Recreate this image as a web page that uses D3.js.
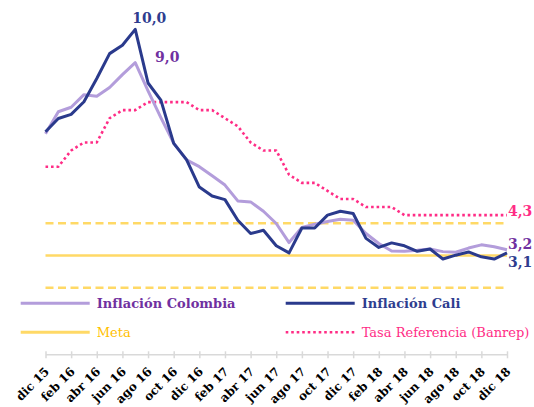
<!DOCTYPE html>
<html lang="es">
<head>
<meta charset="UTF-8">
<title>Inflación Cali vs Colombia</title>
<script src="https://cdn.jsdelivr.net/npm/d3@7/dist/d3.min.js"></script>
<style>
    body { margin: 0; background: #fff; }
    svg { display: block; }
    text { font-family: "DejaVu Serif", serif; }
    path.linea { fill: none; stroke-linejoin: round; }
    path.colombia { stroke: #b39ddb; stroke-width: 3px; }
    path.cali { stroke: #2a3a8c; stroke-width: 3px; }
    path.banrep { stroke: #ff2d86; stroke-width: 2.6px; stroke-dasharray: 2.6 2.9; }
    line.meta { stroke: #ffd966; stroke-width: 2.6px; }
    line.banda { stroke: #ffd966; stroke-width: 2.6px; stroke-dasharray: 8 4.5; }
    g.ejeX path.domain, g.ejeX line { stroke: #d9d9d9; stroke-width: 1.5px; }
    g.ejeX text { font-size: 12px; font-weight: bold; fill: #000; }
</style>
</head>
<body>

<svg width="534" height="407"></svg>

<script>
    // meses dic 15 -> dic 18
    let meses = ["dic 15","ene 16","feb 16","mar 16","abr 16","may 16","jun 16","jul 16","ago 16","sep 16","oct 16","nov 16",
                 "dic 16","ene 17","feb 17","mar 17","abr 17","may 17","jun 17","jul 17","ago 17","sep 17","oct 17","nov 17",
                 "dic 17","ene 18","feb 18","mar 18","abr 18","may 18","jun 18","jul 18","ago 18","sep 18","oct 18","nov 18","dic 18"]

    let colombia = [6.77,7.45,7.59,7.98,7.93,8.20,8.60,8.97,8.10,7.27,6.48,5.96,
                    5.75,5.47,5.18,4.69,4.66,4.37,3.99,3.40,3.87,3.97,4.05,4.12,
                    4.09,3.68,3.37,3.14,3.13,3.16,3.20,3.12,3.10,3.23,3.33,3.27,3.18]

    let cali = [6.83,7.24,7.37,7.76,8.48,9.25,9.51,10.0,8.34,7.81,6.47,5.97,
                5.12,4.84,4.73,4.09,3.68,3.78,3.30,3.08,3.85,3.85,4.25,4.37,
                4.30,3.53,3.25,3.39,3.30,3.13,3.20,2.89,3.01,3.11,2.96,2.89,3.08]

    let banrep = [5.75,5.75,6.25,6.5,6.5,7.25,7.5,7.5,7.75,7.75,7.75,7.75,
                  7.5,7.5,7.25,7.0,6.5,6.25,6.25,5.5,5.25,5.25,5.0,4.75,
                  4.75,4.5,4.5,4.5,4.25,4.25,4.25,4.25,4.25,4.25,4.25,4.25,4.25]

    let meta = 3
    let bandas = [2, 4]

    let leyenda = [
        {nombre: "Inflación Colombia", clase: "colombia", color: "#7030a0", bold: true},
        {nombre: "Inflación Cali", clase: "cali", color: "#2e3d8f", bold: true},
        {nombre: "Meta", clase: "meta", color: "#ffc000", bold: false},
        {nombre: "Tasa Referencia (Banrep)", clase: "banrep", color: "#ff2d86", bold: false}
    ]

    let svg = d3.select('svg')

    let xScale = d3.scaleLinear().domain([0, meses.length - 1]).range([45.5, 507])
    let yScale = d3.scaleLinear().domain([0, 11]).range([352.4, -2.9])

    let ejeY = 354.3

    // meta y bandas
    svg.selectAll('line.banda').data(bandas).enter().append('line')
        .attr('class', 'banda')
        .attr('x1', xScale(0)).attr('x2', xScale(meses.length - 1))
        .attr('y1', function (d) { return yScale(d) }).attr('y2', function (d) { return yScale(d) })

    svg.append('line').attr('class', 'meta')
        .attr('x1', xScale(0)).attr('x2', xScale(meses.length - 1))
        .attr('y1', yScale(meta)).attr('y2', yScale(meta))

    // series
    let linea = d3.line()
        .x(function (d, i) { return xScale(i) })
        .y(function (d) { return yScale(d) })

    svg.append('path').datum(banrep).attr('class', 'linea banrep').attr('d', linea)
    svg.append('path').datum(colombia).attr('class', 'linea colombia').attr('d', linea)
    svg.append('path').datum(cali).attr('class', 'linea cali').attr('d', linea)

    // etiquetas de datos
    let n = meses.length - 1
    let iMax = 7
    svg.append('text').text(d3.format('.1f')(cali[iMax]).replace('.', ','))
        .attr('x', xScale(iMax) + 14).attr('y', yScale(cali[iMax]) - 6)
        .attr('text-anchor', 'middle').attr('fill', '#2e3d8f')
        .style('font-size', '14px').style('font-weight', 'bold')
    svg.append('text').text(d3.format('.1f')(colombia[iMax]).replace('.', ','))
        .attr('x', xScale(iMax) + 32).attr('y', yScale(colombia[iMax]) - 0.5)
        .attr('text-anchor', 'middle').attr('fill', '#7030a0')
        .style('font-size', '14px').style('font-weight', 'bold')

    let finales = [
        {v: banrep[n], color: "#ff2d86", dy: 1},
        {v: colombia[n], color: "#7030a0", dy: -1},
        {v: cali[n], color: "#2e3d8f", dy: 14}
    ]
    svg.selectAll('text.final').data(finales).enter().append('text')
        .attr('class', 'final')
        .text(function (d) { return d3.format('.1f')(d.v).replace('.', ',') })
        .attr('x', xScale(n) + 1)
        .attr('y', function (d) { return yScale(d.v) + d.dy })
        .attr('fill', function (d) { return d.color })
        .style('font-size', '14px').style('font-weight', 'bold')

    // leyenda
    let leg = svg.selectAll('g.leg').data(leyenda).enter().append('g')
        .attr('class', 'leg')
        .attr('transform', function (d, i) {
            return 'translate(' + (i % 2 === 0 ? 20.7 : 285.7) + ',' + (i < 2 ? 303.3 : 332.3) + ')'
        })

    leg.append('line')
        .attr('x1', 0).attr('x2', 69).attr('y1', 0).attr('y2', 0)
        .attr('stroke', function (d) {
            return {colombia: '#b39ddb', cali: '#2a3a8c', meta: '#ffd966', banrep: '#ff2d86'}[d.clase]
        })
        .attr('stroke-width', function (d) { return d.clase === 'banrep' ? 2.6 : 3 })
        .attr('stroke-dasharray', function (d) { return d.clase === 'banrep' ? '2.6 2.9' : null })

    leg.append('text')
        .text(function (d) { return d.nombre })
        .attr('x', 76).attr('y', 5)
        .attr('fill', function (d) { return d.color })
        .style('font-size', '13px')
        .style('font-weight', function (d) { return d.bold ? 'bold' : 'normal' })

    // eje x
    let ticks = d3.range(0, meses.length, 2)
    let xAxis = svg.append('g').attr('class', 'ejeX')
        .attr('transform', 'translate(0,' + ejeY + ')')
        .call(d3.axisBottom(xScale).tickValues(ticks)
            .tickFormat(function (i) { return meses[i] })
            .tickSizeInner(4).tickSizeOuter(0))

    xAxis.selectAll('.tick line').attr('y1', -3)
    xAxis.selectAll('.tick text')
        .attr('x', 0).attr('y', 0).attr('dy', 0)
        .attr('text-anchor', 'end')
        .attr('transform', 'translate(4,18) rotate(-45)')
</script>

</body>
</html>
